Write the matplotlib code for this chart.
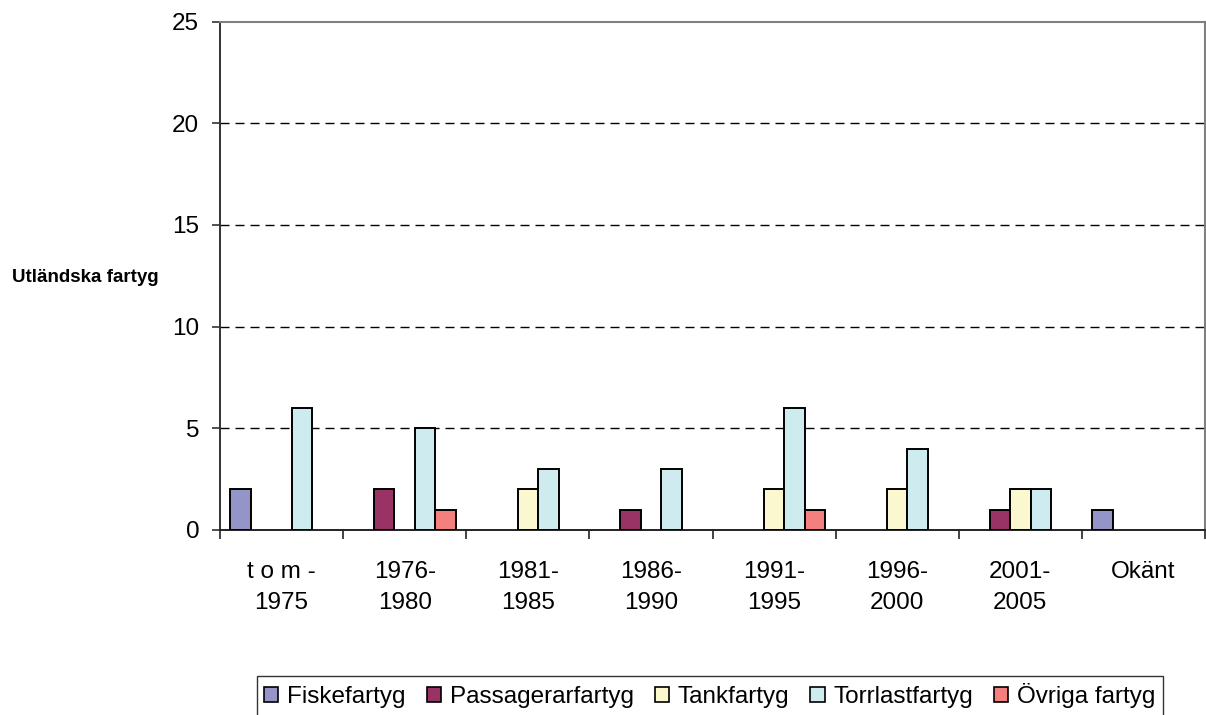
import numpy as np
import matplotlib.pyplot as plt
from matplotlib.patches import Patch

plt.rcParams['font.family'] = ['Liberation Sans', 'DejaVu Sans']

perioder = ['t o m -\n1975', '1976-\n1980', '1981-\n1985', '1986-\n1990',
            '1991-\n1995', '1996-\n2000', '2001-\n2005', 'Okänt']
serier = ['Fiskefartyg', 'Passagerarfartyg', 'Tankfartyg', 'Torrlastfartyg', 'Övriga fartyg']
fiske = [2, 0, 0, 0, 0, 0, 0, 1]
passager = [0, 2, 0, 1, 0, 0, 1, 0]
tank = [0, 0, 2, 0, 2, 2, 2, 0]
torrlast = [6, 5, 3, 3, 6, 4, 2, 0]
ovriga = [0, 1, 0, 0, 1, 0, 0, 0]
farger = ['#9494c8', '#993366', '#fbf8cf', '#ceecf0', '#f47f7f']

W, H = 1206, 715
fig = plt.figure(figsize=(W / 100, H / 100), dpi=100)
ax = fig.add_axes([220 / W, 1 - 530 / H, 985 / W, 508.5 / H])

x = np.arange(len(perioder))
w = 1 / 6
for i, (vals, col) in enumerate(zip([fiske, passager, tank, torrlast, ovriga], farger)):
    v = np.array(vals, dtype=float)
    m = v > 0
    ax.bar(x[m] + (i - 2) * w, v[m], width=w, color=col, edgecolor='black',
           linewidth=1.4, zorder=3)

ax.set_xlim(-0.5, len(perioder) - 0.5)
ax.set_ylim(0, 25)
ax.set_yticks([0, 5, 10, 15, 20, 25])
for yv in [5, 10, 15, 20]:
    ax.axhline(yv, color='black', linestyle=(0, (6.5, 4.3)), linewidth=1, zorder=1)

ax.set_xticks(x)
ax.set_xticklabels(perioder, fontsize=17.5, linespacing=1.52)
ax.set_xticks(np.arange(-0.5, len(perioder), 1), minor=True)
ax.tick_params(axis='x', which='major', length=0, pad=22.5)
ax.tick_params(axis='x', which='minor', length=6.5, width=1.2, color='#222222')
ax.tick_params(axis='y', labelsize=17.5, length=6, width=1.2, color='#333333', pad=9)

for s in ['top', 'right']:
    ax.spines[s].set_color('#808080')
    ax.spines[s].set_linewidth(1.5)
ax.spines['left'].set_color('#333333')
ax.spines['bottom'].set_color('#222222')
ax.spines['left'].set_linewidth(1.4)
ax.spines['bottom'].set_linewidth(1.4)

fig.text(12 / W, 1 - 277 / H, 'Utländska fartyg', fontsize=13.5, fontweight='bold',
         ha='left', va='center')

handles = [Patch(facecolor=c, edgecolor='black', linewidth=1.2) for c in farger]
leg = fig.legend(handles, serier, loc='upper center', bbox_to_anchor=(710 / W, 1 - 676 / H),
                 ncol=5, fontsize=17.5, frameon=True, fancybox=False, handlelength=0.58,
                 handleheight=0.58, handletextpad=0.37, columnspacing=0.86,
                 borderpad=0.3, borderaxespad=0)
leg.get_frame().set_edgecolor('black')
leg.get_frame().set_linewidth(1)

fig.savefig('out.png', dpi=100)
